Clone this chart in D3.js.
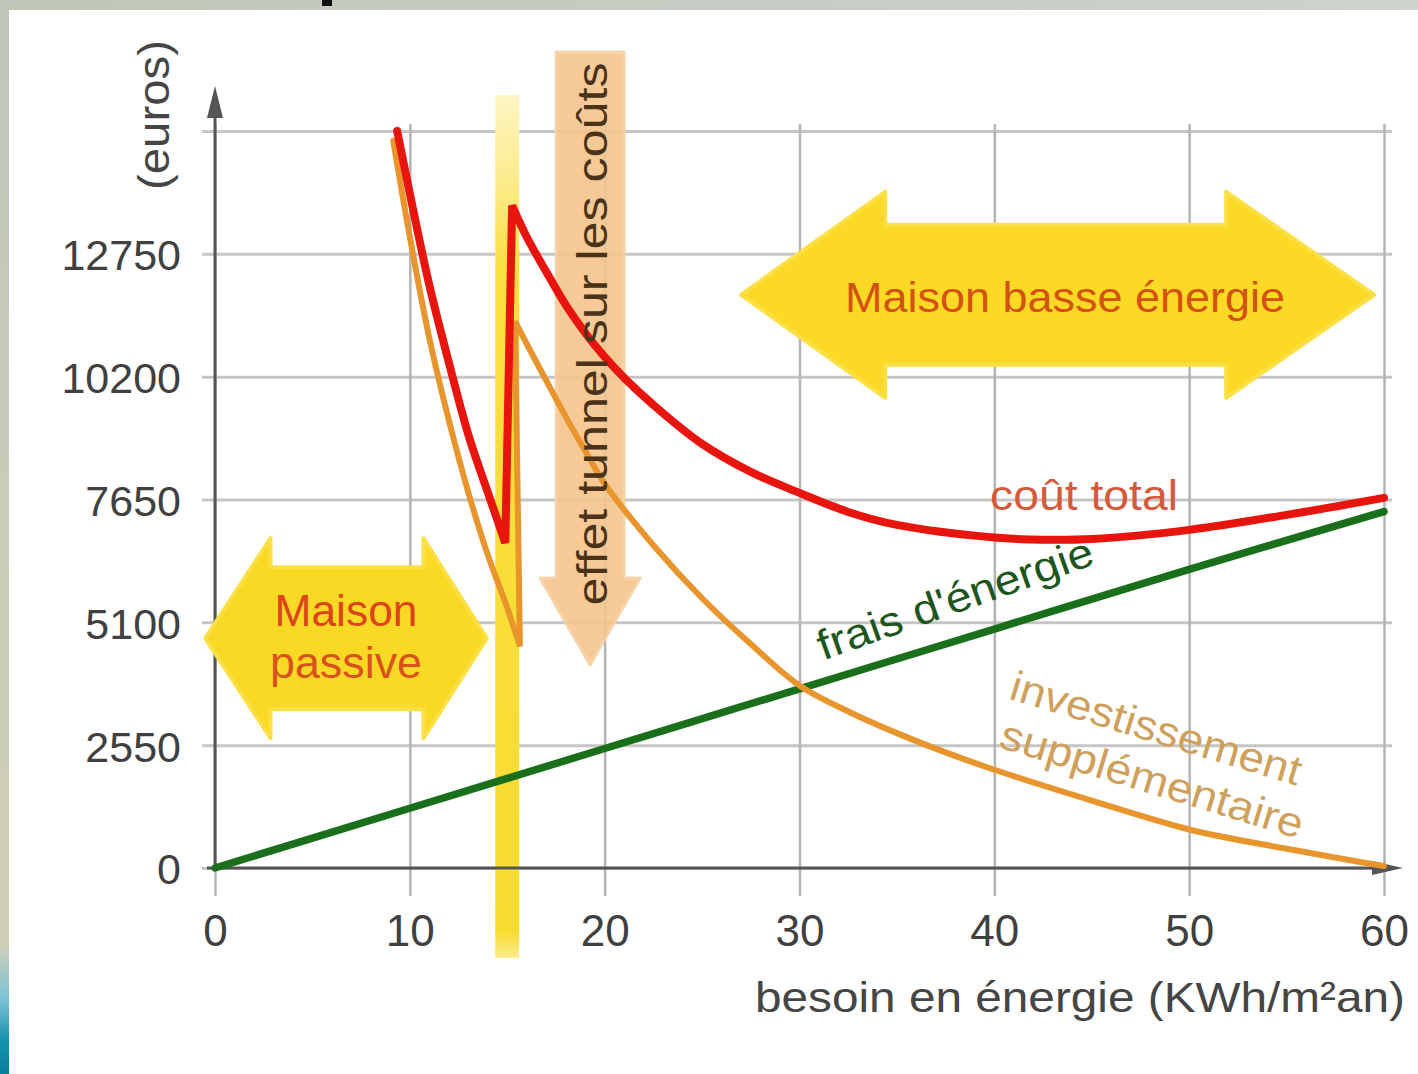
<!DOCTYPE html>
<html>
<head>
<meta charset="utf-8">
<script src="https://cdn.jsdelivr.net/npm/d3@7"></script>
<style>
  html,body{margin:0;padding:0;background:#fff;}
  svg{display:block;}
</style>
</head>
<body>
<svg id="chart" width="1418" height="1074"></svg>
<script>
// ---------- DATA ----------
const xTicks = [0, 10, 20, 30, 40, 50, 60];
const yTicks = [0, 2550, 5100, 7650, 10200, 12750];
const yGrid  = [0, 2550, 5100, 7650, 10200, 12750, 15300];

// frais d'énergie (green)
const energyX = [0, 10, 20, 30, 40, 50, 60];
const energyY = [0, 1240, 2480, 3720, 4960, 6200, 7400];

// investissement supplémentaire (orange) – passive branch and low-energy branch
const invest1X = [9.15, 10, 11, 12, 13, 14, 15, 15.65];
const invest1Y = [15100, 13100, 11000, 9300, 7800, 6500, 5400, 4600];
const invest2X = [15.4, 16, 17, 18, 19, 20, 22.5, 25, 27.5, 30, 32.5, 35, 37.5, 40, 45, 50, 55, 60];
const invest2Y = [11350, 10880, 10120, 9370, 8660, 7980, 6700, 5600, 4650, 3790, 3250, 2800, 2400, 2040, 1400, 800, 400, 40];

// coût total (red)
const total1X = [9.35, 10, 11, 12, 13, 14, 14.9];
const total1Y = [15300, 14000, 12100, 10500, 9000, 7800, 6750];
const total2X = [15.25, 16, 17, 18, 19, 20, 21, 22.5, 25, 27.5, 30, 32.5, 35, 40, 42.5, 45, 50, 55, 60];
const total2Y = [13750, 13100, 12380, 11690, 11110, 10610, 10175, 9614, 8804, 8223, 7787, 7392, 7122, 6860, 6815, 6830, 7020, 7330, 7683];

// labels
const xTitle = "besoin en énergie (KWh/m²an)";
const yTitle = "(euros)";
const passiveLabel = ["Maison", "passive"];
const lowLabel = "Maison basse énergie";
const tunnelLabel = "effet tunnel sur les coûts";
const totalLabel = "coût total";
const energyLabel = "frais d'énergie";
const investLabel = ["investissement", "supplémentaire"];

// ---------- SETUP ----------
const FONT = "'Liberation Sans', Arial, Helvetica, sans-serif";
const svg = d3.select("#chart");
const x = d3.scaleLinear().domain([0, 60]).range([215, 1384]);
const y = d3.scaleLinear().domain([0, 15300]).range([868, 131]);
const zip = (xs, ys) => xs.map((v, i) => [v, ys[i]]);

const defs = svg.append("defs");
const gl = defs.append("linearGradient").attr("id", "leftStrip").attr("x1", 0).attr("y1", 0).attr("x2", 0).attr("y2", 1);
[[0, "#bfc6ba"], [0.5, "#c9ccb8"], [0.88, "#d0cfb6"], [0.93, "#7cc3d4"], [0.97, "#1490ae"], [1, "#07809d"]]
  .forEach(([o, c]) => gl.append("stop").attr("offset", o).attr("stop-color", c));
const gt = defs.append("linearGradient").attr("id", "topStrip").attr("x1", 0).attr("y1", 0).attr("x2", 1).attr("y2", 0);
[[0, "#bfc6b9"], [1, "#cdd3cd"]].forEach(([o, c]) => gt.append("stop").attr("offset", o).attr("stop-color", c));
const gb = defs.append("linearGradient").attr("id", "bar").attr("x1", 0).attr("y1", 0).attr("x2", 0).attr("y2", 1);
[[0, "#fdf5c4"], [0.1, "#fcec8c"], [0.2, "#fadf40"], [0.97, "#f9dc30"], [1, "#fbeb90"]]
  .forEach(([o, c]) => gb.append("stop").attr("offset", o).attr("stop-color", c));

// background + borders
svg.append("rect").attr("width", 1418).attr("height", 1074).attr("fill", "#ffffff");
svg.append("rect").attr("x", 0).attr("y", 0).attr("width", 9).attr("height", 1074).attr("fill", "url(#leftStrip)");
svg.append("rect").attr("x", 0).attr("y", 0).attr("width", 1418).attr("height", 10).attr("fill", "url(#topStrip)");
svg.append("rect").attr("x", 322).attr("y", 0).attr("width", 10).attr("height", 6).attr("fill", "#111");

// ---------- GRID ----------
const hGrid = svg.append("g").attr("transform", "translate(202,0)")
  .call(d3.axisLeft(y).tickValues(yGrid).tickSize(-(1392 - 202)).tickFormat(""));
hGrid.select(".domain").remove();
hGrid.selectAll("line").attr("stroke", "#c6c6c6").attr("stroke-width", 3);

const vGrid = svg.append("g").attr("transform", "translate(0,896)")
  .call(d3.axisBottom(x).tickValues(xTicks).tickSize(-(896 - 124)).tickFormat(""));
vGrid.select(".domain").remove();
vGrid.selectAll("line").attr("stroke", "#b4b4b4").attr("stroke-width", 2.5);

// ---------- yellow vertical bar at x = 15 ----------
svg.append("rect")
  .attr("x", x(15) - 12).attr("y", y(15300) - 36)
  .attr("width", 24).attr("height", 958 - (y(15300) - 36))
  .attr("fill", "url(#bar)");

// ---------- tunnel arrow (pointing down) ----------
const tx = x(19.25), tTop = 52, tHead = 578, tTip = 665;
svg.append("path")
  .attr("d", d3.line().curve(d3.curveLinearClosed)([
    [tx - 34, tTop], [tx + 34, tTop], [tx + 34, tHead], [tx + 50, tHead],
    [tx, tTip], [tx - 50, tHead], [tx - 34, tHead]
  ]))
  .attr("fill", "#f4c58c").attr("opacity", 0.9)
  .attr("stroke", "#f6cf9f").attr("stroke-width", 3).attr("stroke-linejoin", "round");

// ---------- axes ----------
svg.append("line").attr("x1", x(0)).attr("x2", x(0)).attr("y1", y(0) + 2).attr("y2", 110)
  .attr("stroke", "#555").attr("stroke-width", 3);
svg.append("path").attr("d", `M${x(0)},86 L${x(0) + 8},118 L${x(0) - 8},118 Z`).attr("fill", "#555");
svg.append("line").attr("x1", 207).attr("x2", 1380).attr("y1", y(0)).attr("y2", y(0))
  .attr("stroke", "#555").attr("stroke-width", 3);
svg.append("path").attr("d", `M1403,${y(0)} L1372,${y(0) - 7} L1372,${y(0) + 7} Z`).attr("fill", "#555");

const yAx = svg.append("g").attr("transform", `translate(${x(0)},0)`)
  .call(d3.axisLeft(y).tickValues(yTicks).tickSize(0).tickPadding(34).tickFormat(d3.format("d")));
yAx.select(".domain").remove();
yAx.selectAll("text").attr("font-family", FONT).attr("font-size", 43).attr("fill", "#404040")
  .attr("dy", "0.37em");

const xAx = svg.append("g").attr("transform", `translate(0,${y(0)})`)
  .call(d3.axisBottom(x).tickValues(xTicks).tickSize(0).tickPadding(47).tickFormat(d3.format("d")));
xAx.select(".domain").remove();
xAx.selectAll("text").attr("font-family", FONT).attr("font-size", 44).attr("fill", "#404040");

// ---------- yellow double arrows ----------
function hArrow(xl, xhl, xhr, xr, yc, bh, hh) {
  return d3.line().curve(d3.curveLinearClosed)([
    [xl, yc], [xhl, yc - hh], [xhl, yc - bh], [xhr, yc - bh], [xhr, yc - hh],
    [xr, yc], [xhr, yc + hh], [xhr, yc + bh], [xhl, yc + bh], [xhl, yc + hh]
  ]);
}
svg.append("path")
  .attr("d", hArrow(x(-0.5), x(2.85), x(10.7), x(13.95), y(4770), 71, 100))
  .attr("fill", "#fad925").attr("stroke", "#fadf45").attr("stroke-width", 4).attr("stroke-linejoin", "round");
svg.append("path")
  .attr("d", hArrow(x(27.0), x(34.4), x(51.9), x(59.5), y(11900), 70, 103))
  .attr("fill", "#fbd925").attr("stroke", "#fbdf45").attr("stroke-width", 4).attr("stroke-linejoin", "round");

// ---------- curves ----------
const line = d3.line().x(d => x(d[0])).y(d => y(d[1])).curve(d3.curveCatmullRom.alpha(0.5));
const joined = (a, b) => line(a) + line(b).replace(/^M/, "L");

svg.append("path").attr("d", line(zip(energyX, energyY)))
  .attr("fill", "none").attr("stroke", "#1a701a").attr("stroke-width", 7.5).attr("stroke-linecap", "round");

svg.append("path").attr("d", joined(zip(invest1X, invest1Y), zip(invest2X, invest2Y)))
  .attr("fill", "none").attr("stroke", "#e8952e").attr("stroke-width", 6)
  .attr("stroke-linejoin", "miter").attr("stroke-miterlimit", 4).attr("stroke-linecap", "round");

svg.append("path").attr("d", joined(zip(total1X, total1Y), zip(total2X, total2Y)))
  .attr("fill", "none").attr("stroke", "#e8140e").attr("stroke-width", 8)
  .attr("stroke-linejoin", "miter").attr("stroke-miterlimit", 4).attr("stroke-linecap", "round");

// ---------- texts ----------
function txt(str, opts) {
  const t = svg.append("text").text(str)
    .attr("font-family", FONT).attr("font-size", opts.size || 43)
    .attr("fill", opts.fill || "#404040")
    .attr("text-anchor", opts.anchor || "middle")
    .attr("transform", `translate(${opts.x},${opts.y}) rotate(${opts.rot || 0})`);
  if (opts.len) t.attr("textLength", opts.len).attr("lengthAdjust", "spacingAndGlyphs");
  return t;
}

txt(yTitle, { x: 169, y: 115, rot: -90, size: 44, len: 150, fill: "#454545" });
txt(xTitle, { x: 1405, y: 1012, anchor: "end", size: 43, len: 650, fill: "#454545" });

txt(passiveLabel[0], { x: 346, y: 626, size: 44, len: 143, fill: "#dc4419" });
txt(passiveLabel[1], { x: 346, y: 678, size: 44, len: 152, fill: "#d9521c" });
txt(lowLabel, { x: 1065, y: 312, size: 43, len: 440, fill: "#d4520f" });

txt(tunnelLabel, { x: 607, y: 334, rot: -90, size: 43, len: 543, fill: "#4a3319" });

txt(totalLabel, { x: 990, y: 510, anchor: "start", size: 43, len: 188, fill: "#d55a3c" });
txt(energyLabel, { x: 960, y: 612, rot: -19.5, size: 42, len: 290, fill: "#1d561d" });
txt(investLabel[0], { x: 1152, y: 742, rot: 16.8, size: 42, len: 302, fill: "#cf9f5c" });
txt(investLabel[1], { x: 1148, y: 793, rot: 17, size: 42, len: 315, fill: "#cf9f5c" });
</script>
</body>
</html>
